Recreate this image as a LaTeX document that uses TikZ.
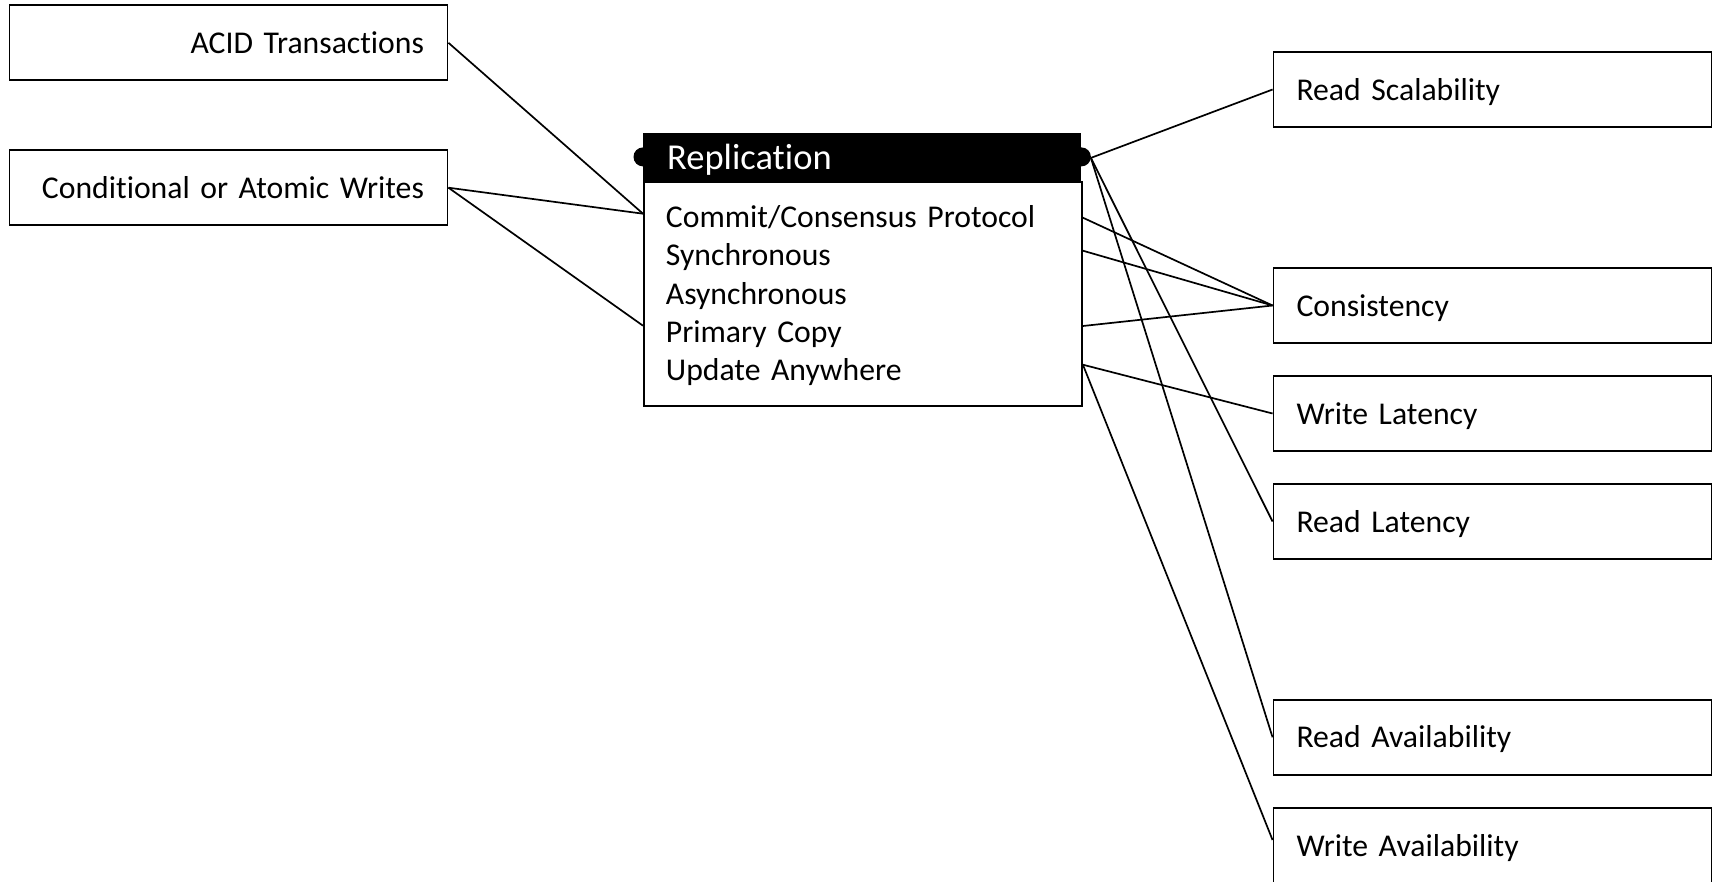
\documentclass[tikz,border=0pt]{standalone}
\usepackage{fontspec}
\setmainfont{Carlito}[Ligatures=NoCommon]
\usetikzlibrary{calc}
\begin{document}
\begin{tikzpicture}[x=1pt,y=-1pt,
  lbl/.style={font=\fontsize{31.7}{38}\selectfont, text height=23pt, text depth=2pt},
  leftbox/.style={draw, line width=1.9pt, lbl, minimum width=438pt, minimum height=75pt,
    inner ysep=0pt, inner xsep=23.5pt, text width=391pt, align=right},
  rightbox/.style={draw, line width=1.9pt, lbl, minimum width=438pt, minimum height=75pt,
    inner ysep=0pt, inner xsep=23pt, text width=392pt, align=left},
  link/.style={line width=1.7pt},
]
\useasboundingbox (0,0) rectangle (1721,881);
\fill[white] (0,0) rectangle (1721,881);
\clip (0,0) rectangle (1721,881);

% left-hand features
\node[leftbox] (acid) at (228.5,42.8) {ACID Transactions};
\node[leftbox] (cond) at (228.5,187.7) {Conditional or Atomic Writes};

% central entity: black title bar and attribute list
\node[fill=black, text=white, anchor=north west, minimum width=438pt, minimum height=48pt,
  inner ysep=0pt, inner xsep=24pt, text width=390pt, align=left,
  text height=26pt, text depth=0.8pt,
  font=\fontsize{36.5}{42}\selectfont] (hdr) at (643,132.7) {Replication};
\fill (hdr.west) circle (9.5);
\fill (hdr.east) circle (9.5);
\node[draw, line width=1.9pt, anchor=north west, minimum width=438pt, minimum height=224.6pt,
  inner ysep=0pt, inner xsep=22pt, text width=394pt, align=left,
  font=\fontsize{31.7}{38.3}\selectfont] (body) at (643,180.7)
  {\rule{0pt}{25.6pt}Commit/Consensus Protocol\\Synchronous\\Asynchronous\\Primary Copy\\Update Anywhere};

% right-hand properties
\node[rightbox] (rscal) at (1492.5,89.5) {Read Scalability};
\node[rightbox] (cons) at (1492.5,305.5) {Consistency};
\node[rightbox] (wlat) at (1492.5,413.5) {Write Latency};
\node[rightbox] (rlat) at (1492.5,521.5) {Read Latency};
\node[rightbox] (ravail) at (1492.5,737.3) {Read Availability};
\node[rightbox] (wavail) at (1492.5,845.5) {Write Availability};

% attachment points on the entity
\coordinate (hdrR) at ($(hdr.east)+(9.5,1)$);
\coordinate (inA) at ($(body.north west)+(0,33)$);
\coordinate (inB) at ($(body.north west)+(0,145)$);
\coordinate (outA) at ($(body.north east)+(0,37)$);
\coordinate (outB) at ($(body.north east)+(0,70)$);
\coordinate (outC) at ($(body.north east)+(0,145.3)$);
\coordinate (outD) at ($(body.north east)+(0,184)$);
\coordinate (wavailIn) at ($(wavail.west)+(0,-5.5)$);

% connectors
\draw[link] (acid.east) -- (inA);
\draw[link] (cond.east) -- (inA);
\draw[link] (cond.east) -- (inB);
\draw[link] (hdrR) -- (rscal.west);
\draw[link] (hdrR) -- (rlat.west);
\draw[link] (hdrR) -- (ravail.west);
\draw[link] (outA) -- (cons.west);
\draw[link] (outB) -- (cons.west);
\draw[link] (outC) -- (cons.west);
\draw[link] (outD) -- (wlat.west);
\draw[link] (outD) -- (wavailIn);
\end{tikzpicture}
\end{document}
